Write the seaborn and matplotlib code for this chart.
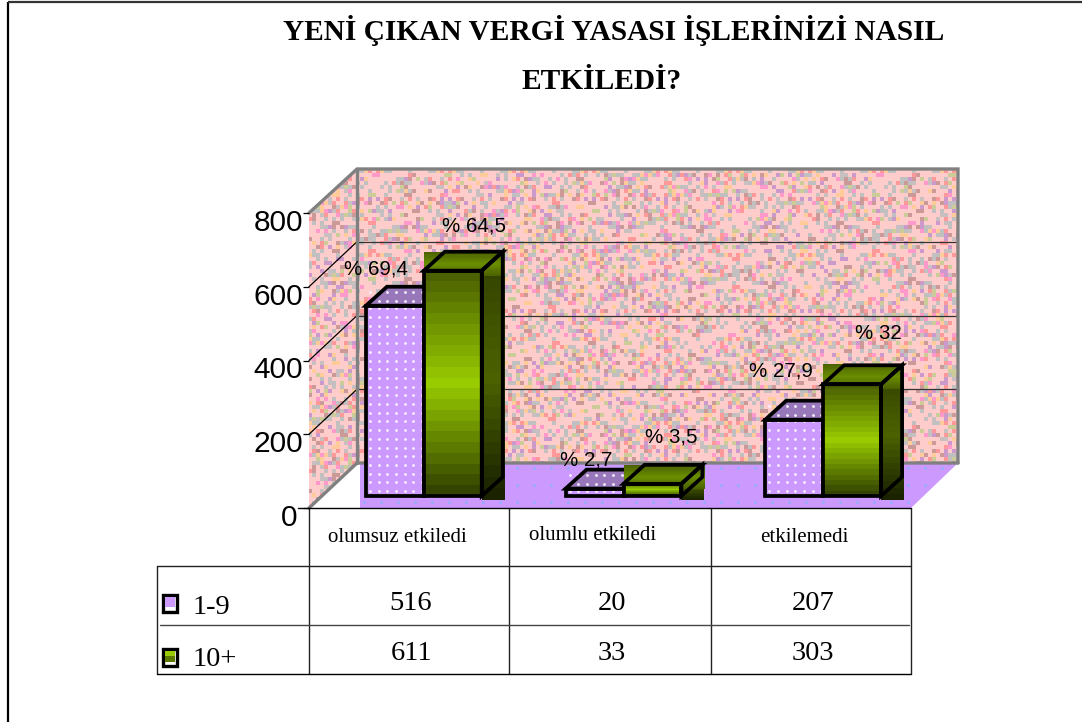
import numpy as np
import pandas as pd
import seaborn as sns
import matplotlib.pyplot as plt
from matplotlib.colors import LinearSegmentedColormap, to_rgb
from matplotlib.patches import Polygon, Rectangle
from matplotlib.transforms import ScaledTranslation

title_lines = ["YENİ ÇIKAN VERGİ YASASI İŞLERİNİZİ NASIL", "ETKİLEDİ?"]
categories = ["olumsuz etkiledi", "olumlu etkiledi", "etkilemedi"]
groups = ["1-9", "10+"]
values_low = [516, 20, 207]
values_high = [611, 33, 303]
percent_low = ["% 69,4", "% 2,7", "% 27,9"]
percent_high = ["% 64,5", "% 3,5", "% 32"]
y_ticks = [0, 200, 400, 600, 800]

W, H = 1082, 722
PURPLE = "#CC99FF"
SERIF = "Liberation Serif"
SANS = "Liberation Sans"

sns.set_theme(style="white")
fig = plt.figure(figsize=(W / 100, H / 100), dpi=100, facecolor="white")


def px_axes(left, top, right, bottom, **kw):
    return fig.add_axes([left / W, 1 - bottom / H, (right - left) / W, (bottom - top) / H], **kw)


# background layer in pixel coordinates: frame, walls, floor, table
bg = px_axes(0, 0, W, H, zorder=1)
bg.set_xlim(0, W)
bg.set_ylim(H, 0)
bg.axis("off")

bg.plot([8, 8], [H, 2], color="black", lw=1.6, solid_capstyle="butt")
bg.plot([8, W], [2, 2], color="#333333", lw=1.6, solid_capstyle="butt")

palette = ["#FFCCCC"] * 9 + ["#C0C0C0", "#C0C0C0", "#C8C0C0", "#FF99CC", "#FF9999", "#CC9999",
                             "#CCCC99", "#FFCC99", "#CC99CC"]
rgb = np.array([to_rgb(c) for c in palette])
rows, cols = np.mgrid[0:90, 0:170]
wall_idx = (rows * rows * 7 + cols * cols * 13 + rows * cols * 5 + rows * 3 + (rows * cols) // 7) % len(palette)
wall_tex = rgb[wall_idx]

back_wall = Rectangle((357, 169), 601, 294, transform=bg.transData)
side_wall = Polygon([(309, 213), (357, 169), (357, 463), (309, 508)], transform=bg.transData)
for clip in (back_wall, side_wall):
    im = bg.imshow(wall_tex, extent=(300, 300 + 170 * 4, 169 + 90 * 4, 169), aspect="auto",
                   interpolation="nearest", zorder=1)
    im.set_clip_path(clip)
bg.set_xlim(0, W)
bg.set_ylim(H, 0)

floor_pts = [(360, 463), (958, 463), (911, 508), (360, 508)]
bg.add_patch(Polygon(floor_pts, color=PURPLE, lw=0, zorder=2))
fx, fy = np.meshgrid(np.arange(364, 950, 17), np.arange(468, 508, 17))
fd, = bg.plot(fx.ravel(), fy.ravel(), ls="", marker=".", ms=2.5, color="#99AAFF", zorder=2.1)
fd.set_clip_path(Polygon(floor_pts, transform=bg.transData))

# axis scale of the front plane, shared by wall gridlines
ax_y = px_axes(309, 213, 320, 508, zorder=2)
ax_y.patch.set_alpha(0)
ax_y.set_ylim(0, 800)
ax_y.set_xlim(0, 1)
ax_y.set_xticks([])
ax_y.set_yticks(y_ticks)
for s in ax_y.spines.values():
    s.set_visible(False)
ax_y.tick_params(axis="y", left=True, length=4.3, width=0.9, color="black", pad=0, labelsize=21.5)
shift = ScaledTranslation(0, -5 / 72, fig.dpi_scale_trans)
for lab in ax_y.get_yticklabels():
    lab.set_fontfamily(SANS)
    lab.set_color("black")
    lab.set_transform(lab.get_transform() + shift)
ax_y.get_yticklabels()[0].set_transform(
    ax_y.get_yticklabels()[0].get_transform() + ScaledTranslation(-4 / 72, 0, fig.dpi_scale_trans))

for v in y_ticks[1:]:
    py = 508 - v * 295 / 800
    if v < 800:
        bg.plot([309, 357], [py, py - 45], color="black", lw=0.9, zorder=3)
        bg.plot([357, 958], [py - 45, py - 45], color="#333333", lw=0.9, zorder=3)

wall_edge = "#808080"
bg.plot([309, 357, 958, 958], [213, 169, 169, 463], color=wall_edge, lw=2.4, zorder=3,
        solid_joinstyle="miter")
bg.plot([309, 357, 958], [508, 463, 463], color=wall_edge, lw=2.4, zorder=3, solid_joinstyle="miter")
bg.plot([357, 357], [169, 463], color=wall_edge, lw=2.4, zorder=3)

# table
for x in (309, 509, 711, 911):
    bg.plot([x, x], [508, 674], color="#222222", lw=1, zorder=4)
bg.plot([157, 157], [566, 674], color="#222222", lw=1, zorder=4)
bg.plot([298, 911], [508, 508], color="black", lw=1, zorder=4)
bg.plot([157, 911], [566, 566], color="#222222", lw=1, zorder=4)
bg.plot([160, 909], [625, 625], color="#444444", lw=1, zorder=4)
bg.plot([157, 911], [674, 674], color="black", lw=1, zorder=4)

col_mid = [409, 610, 811]
cat_xy = [(397, 537), (593, 535), (804, 538)]
for (cx, cy), name in zip(cat_xy, categories):
    bg.text(cx, cy, name, ha="center", va="center", family=SERIF, fontsize=15, color="black")
for cx, a, b in zip(col_mid, values_low, values_high):
    bg.text(cx + 2, 603, str(a), ha="center", va="center", family=SERIF, fontsize=20.5, color="black")
    bg.text(cx + 2, 654, str(b), ha="center", va="center", family=SERIF, fontsize=20.5, color="black")
for y, name in zip((607, 659), groups):
    bg.text(193, y, name, ha="left", va="center", family=SERIF, fontsize=20.5, color="black")

bg.add_patch(Rectangle((163, 595), 14, 17, fc="white", ec="black", lw=2.4, zorder=5))
bg.add_patch(Rectangle((165, 597), 10, 10, fc=PURPLE, lw=0, zorder=5))
bg.add_patch(Rectangle((163, 649), 14, 17, fc="white", ec="black", lw=2.4, zorder=5))
bg.add_patch(Rectangle((165, 651), 10, 5, fc="#99CC00", lw=0, zorder=5))
bg.add_patch(Rectangle((165, 656), 10, 6, fc="#5C7A00", lw=0, zorder=5))

for (x, y), line in zip(((614, 40), (602, 89)), title_lines):
    bg.text(x, y, line, ha="center", va="baseline", family=SERIF, fontweight="bold", fontsize=21.2, color="black")

# bars, plane sits a bit behind the front edge of the floor
ax = px_axes(324, 201, 923, 496, zorder=3)
ax.patch.set_alpha(0)
df = pd.DataFrame({
    "kategori": categories * 2,
    "grup": [groups[0]] * 3 + [groups[1]] * 3,
    "deger": values_low + values_high,
})
sns.barplot(data=df, x="kategori", y="deger", hue="grup", hue_order=groups, order=categories,
            palette=[PURPLE, "#99CC00"], width=0.58, gap=0, dodge=True, legend=False,
            saturation=1, ax=ax)
ax.set_ylim(0, 800)
ax.set_xlim(-0.5, 2.5)
ax.axis("off")

green_face = LinearSegmentedColormap.from_list("gf", ["#4C6200", "#99CC00", "#344400"])
green_side = LinearSegmentedColormap.from_list("gs", ["#334200", "#4C6200", "#1A2200"])
green_top = LinearSegmentedColormap.from_list("gt", ["#4C6200", "#6B8E00", "#4C6200"])
band = np.linspace(0, 1, 21)[:, None]

ux = 1 / (599 / 3)    # data units per pixel
uy = 800 / 295
dx, dy = 21 * ux, 19 * uy
lw_bar = 2.7


def grad(box, cmap, z, clip=None):
    im = ax.imshow(band, cmap=cmap, extent=box, aspect="auto", interpolation="nearest", zorder=z, clip_on=False)
    if clip is not None:
        im.set_clip_path(clip)


def outline(pts, z, fc="none"):
    ax.add_patch(Polygon(pts, closed=True, fc=fc, ec="black", lw=lw_bar, joinstyle="miter", zorder=z, clip_on=False))


def dots(l, r, b, t, clip, z):
    xs, ys = np.meshgrid(np.arange(l + 4 * ux, r, 8.7 * ux), np.arange(b + 5 * uy, t, 8.7 * uy))
    d, = ax.plot(xs.ravel(), ys.ravel(), ls="", marker=".", ms=4, mec="none", color="#F8F2FF", zorder=z, clip_on=False)
    d.set_clip_path(clip)


bars = sorted(ax.patches, key=lambda p: p.get_x())
bars = [p for p in bars if p.get_width() > 0]
offset_low = [(-19, 37), (-8, 29), (-13, 49)]
offset_high = [(21, 45), (19, 47), (26, 51)]
lab_low = dict(zip(bars[0::2], zip(percent_low, offset_low)))
lab_high = dict(zip(bars[1::2], zip(percent_high, offset_high)))

for i, p in enumerate(bars):
    l, b, w, h = p.get_x(), p.get_y(), p.get_width(), p.get_height()
    r, t = l + w, b + h
    p.set_visible(False)
    z = 10 + i * 2
    front = [(l, b), (r, b), (r, t), (l, t)]
    top = [(l, t), (l + dx, t + dy), (r + dx, t + dy), (r, t)]
    side = [(r, b), (r + dx, b + dy), (r + dx, t + dy), (r, t)]
    if p in lab_low:
        ax.add_patch(Polygon(front, fc=PURPLE, lw=0, zorder=z))
        ax.add_patch(Polygon(top, fc="#9977BB", lw=0, zorder=z))
        clip_f = Polygon(front, transform=ax.transData)
        clip_t = Polygon(top, transform=ax.transData)
        dots(l, r, b, t, clip_f, z + 0.1)
        dots(l, r + dx, t, t + dy, clip_t, z + 0.1)
        text, off = lab_low[p]
    else:
        grad((r, r + dx + 2 * ux, b - 4 * uy, t + dy - 5 * uy), green_side, z)
        grad((l, r + dx + 2 * ux, t - 5 * uy, t + dy), green_top, z + 0.1)
        grad((l, r, b, t), green_face, z + 0.2)
        text, off = lab_high[p]
    outline(front, z + 0.5)
    outline(top, z + 0.5)
    if p in lab_high:
        outline(side, z + 0.5)
    ax.annotate(text, xy=(l + w / 2, t), xytext=off, textcoords="offset pixels", ha="center", va="center",
                family=SANS, fontsize=14.8, color="black", zorder=40, annotation_clip=False)
ax.set_ylim(0, 800)
ax.set_xlim(-0.5, 2.5)

fig.savefig("out.png", dpi=100, facecolor="white")
